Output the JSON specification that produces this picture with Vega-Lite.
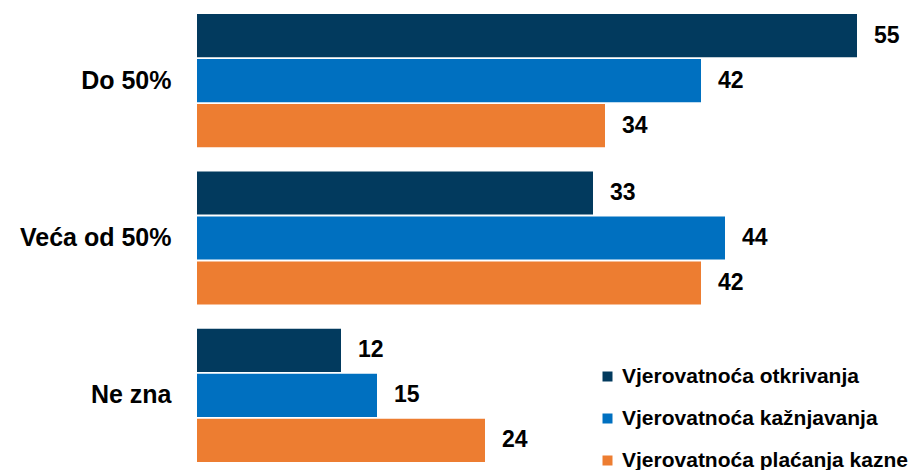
{
  "$schema": "https://vega.github.io/schema/vega-lite/v6.json",
  "autosize": {"type": "none"},
  "width": 696,
  "height": 448,
  "padding": {"left": 197, "top": 14, "right": 17, "bottom": 8},
  "background": "white",
  "config": {"view": {"stroke": null}, "font": "Liberation Sans"},
  "data": {"values": [
    {"kategorija": "Do 50%", "serija": "Vjerovatnoća otkrivanja", "vrijednost": 55},
    {"kategorija": "Do 50%", "serija": "Vjerovatnoća kažnjavanja", "vrijednost": 42},
    {"kategorija": "Do 50%", "serija": "Vjerovatnoća plaćanja kazne", "vrijednost": 34},
    {"kategorija": "Veća od 50%", "serija": "Vjerovatnoća otkrivanja", "vrijednost": 33},
    {"kategorija": "Veća od 50%", "serija": "Vjerovatnoća kažnjavanja", "vrijednost": 44},
    {"kategorija": "Veća od 50%", "serija": "Vjerovatnoća plaćanja kazne", "vrijednost": 42},
    {"kategorija": "Ne zna", "serija": "Vjerovatnoća otkrivanja", "vrijednost": 12},
    {"kategorija": "Ne zna", "serija": "Vjerovatnoća kažnjavanja", "vrijednost": 15},
    {"kategorija": "Ne zna", "serija": "Vjerovatnoća plaćanja kazne", "vrijednost": 24}
  ]},
  "encoding": {
    "y": {"field": "kategorija", "type": "nominal", "sort": ["Do 50%", "Veća od 50%", "Ne zna"],
      "scale": {"paddingInner": 0.154, "paddingOuter": 0},
      "axis": {"title": null, "domain": false, "ticks": false, "labelPadding": 26, "labelFontSize": 25, "labelFontWeight": "bold", "labelColor": "#000000", "labelFont": "Liberation Sans", "labelLimit": 0}},
    "yOffset": {"field": "serija", "type": "nominal", "sort": ["Vjerovatnoća otkrivanja", "Vjerovatnoća kažnjavanja", "Vjerovatnoća plaćanja kazne"],
      "scale": {"paddingInner": 0.04, "paddingOuter": 0}},
    "x": {"field": "vrijednost", "type": "quantitative", "scale": {"domain": [0, 58], "nice": false}, "axis": null}
  },
  "layer": [
    {
      "mark": {"type": "bar"},
      "encoding": {
        "color": {"field": "serija", "type": "nominal",
          "sort": ["Vjerovatnoća otkrivanja", "Vjerovatnoća kažnjavanja", "Vjerovatnoća plaćanja kazne"],
          "scale": {"domain": ["Vjerovatnoća otkrivanja", "Vjerovatnoća kažnjavanja", "Vjerovatnoća plaćanja kazne"], "range": ["#023a5e", "#0070c0", "#ed7d31"]},
          "legend": {"title": null, "orient": "none", "legendX": 400, "legendY": 352, "padding": 0,
            "symbolType": "square", "symbolSize": 100, "symbolStrokeWidth": 0, "symbolOffset": 0,
            "labelFontSize": 21, "labelFontWeight": "bold", "labelColor": "#000000", "labelOffset": 4,
            "labelLimit": 0, "rowPadding": 20, "labelFont": "Liberation Sans"}}
      }
    },
    {
      "mark": {"type": "text", "align": "left", "baseline": "middle", "dx": 17, "fontSize": 23, "fontWeight": "bold", "color": "#000000", "font": "Liberation Sans"},
      "encoding": {"text": {"field": "vrijednost", "type": "quantitative"}}
    }
  ]
}
